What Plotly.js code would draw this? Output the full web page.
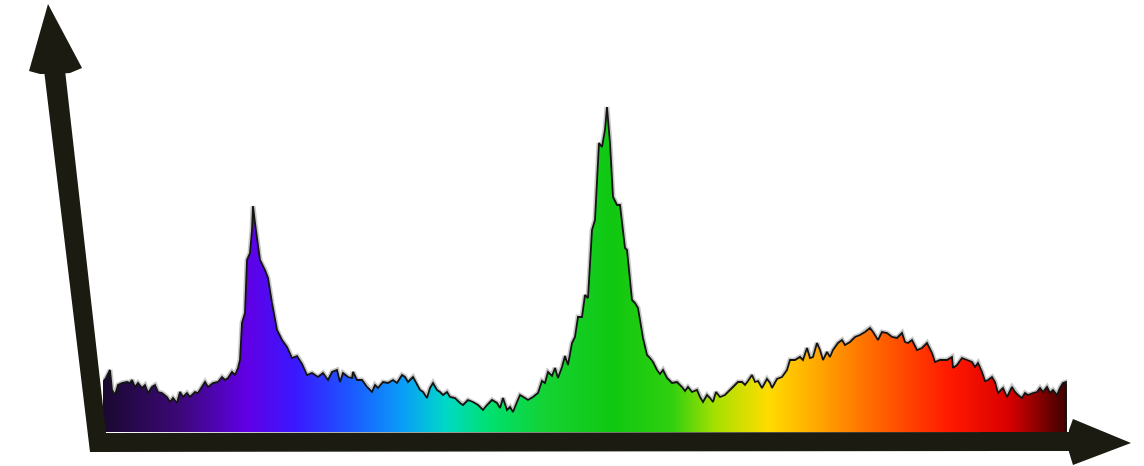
<!DOCTYPE html>
<html>
<head>
<meta charset="utf-8">
<script src="https://cdn.plot.ly/plotly-3.0.1.min.js"></script>
<style>
  html, body { margin: 0; padding: 0; background: #ffffff; }
  #chart { width: 1144px; height: 466px; }
</style>
</head>
<body>
<div id="chart"></div>
<script>
// Spectrum: position along the axis (arbitrary units) and intensity (a.u.)
const position = [0, 3, 7, 9, 12, 15, 19, 24, 27, 29, 32, 35, 39, 42, 45, 49, 52, 55, 59, 64,
  67, 70, 74, 77, 80, 84, 87, 92, 95, 99, 102, 105, 110, 115, 119, 122, 125, 129, 132, 135,
  137, 139, 142, 144, 147, 149, 150, 152, 155, 157, 162, 165, 169, 174, 179, 184, 189, 194, 199, 204,
  209, 212, 215, 220, 225, 229, 234, 237, 240, 245, 249, 250, 254, 259, 264, 269, 272, 275, 280, 285,
  290, 294, 299, 302, 305, 310, 314, 317, 320, 324, 327, 330, 334, 337, 340, 344, 347, 352, 357, 360,
  365, 370, 375, 380, 384, 389, 394, 397, 400, 404, 407, 410, 414, 417, 422, 425, 430, 435, 439, 442,
  445, 449, 452, 455, 459, 462, 465, 469, 472, 475, 479, 482, 485, 489, 492, 496, 499, 502, 504, 507,
  510, 514, 517, 522, 524, 529, 532, 535, 540, 544, 547, 550, 554, 557, 560, 564, 569, 574, 579, 582,
  585, 589, 594, 597, 600, 604, 607, 610, 613, 617, 622, 629, 635, 639, 642, 645, 649, 652, 655, 659,
  664, 667, 669, 674, 679, 684, 687, 692, 697, 700, 704, 707, 710, 714, 717, 720, 724, 727, 730, 735,
  739, 742, 747, 752, 757, 762, 767, 770, 775, 779, 784, 789, 794, 799, 802, 805, 809, 814, 819, 824,
  829, 832, 837, 844, 849, 850, 854, 859, 864, 869, 872, 875, 879, 882, 885, 889, 892, 895, 900, 904,
  909, 912, 915, 919, 922, 925, 930, 934, 937, 940, 944, 947, 950, 954, 957, 960, 963, 964];

const intensity = [50, 54, 62, 42, 37, 47, 49, 50, 49, 52, 45, 49, 44, 47, 39, 45, 47, 40, 39, 35,
  30, 34, 29, 40, 35, 39, 35, 40, 39, 45, 50, 45, 49, 50, 55, 52, 54, 60, 57, 64,
  72, 109, 119, 172, 179, 202, 226, 209, 184, 172, 162, 154, 129, 102, 92, 85, 74, 76, 68, 57,
  59, 57, 55, 59, 52, 60, 62, 50, 59, 55, 54, 60, 52, 52, 45, 40, 47, 44, 50, 49,
  52, 49, 57, 55, 50, 55, 47, 42, 40, 34, 44, 49, 42, 40, 37, 40, 35, 34, 29, 27,
  32, 30, 27, 22, 27, 32, 29, 24, 34, 22, 25, 20, 30, 37, 34, 32, 35, 39, 51, 49,
  60, 56, 64, 54, 65, 76, 67, 89, 95, 115, 115, 137, 134, 202, 212, 289, 285, 302, 325, 289,
  235, 227, 227, 184, 182, 132, 129, 124, 94, 77, 74, 70, 62, 58, 62, 54, 49, 50, 45, 41,
  45, 40, 42, 35, 30, 37, 34, 30, 40, 35, 37, 44, 50, 50, 47, 51, 57, 50, 51, 44,
  53, 49, 44, 53, 55, 62, 72, 72, 75, 72, 84, 74, 75, 89, 82, 72, 80, 75, 82, 89,
  92, 87, 90, 95, 97, 100, 104, 100, 92, 100, 99, 95, 94, 99, 90, 89, 92, 82, 84, 89,
  79, 70, 72, 72, 75, 64, 67, 74, 72, 70, 65, 69, 60, 51, 52, 55, 50, 39, 44, 35,
  45, 40, 37, 34, 39, 37, 39, 40, 44, 40, 45, 39, 42, 37, 44, 49, 50, 0];

// Rainbow used for the fill, from violet through red
const gradientStops = [0, 0.08, 0.15, 0.2, 0.26, 0.31, 0.355, 0.4, 0.46, 0.53, 0.59, 0.635, 0.69, 0.72, 0.77, 0.83, 0.88, 0.94, 1];
const gradientColors = ['#1a0830', '#3c0878', '#6000e6', '#3a18ff', '#1a5cff', '#0a9cf8', '#00d8c8', '#00e070',
  '#14d232', '#10c810', '#30d010', '#a6e000', '#ffdc00', '#ffbe00', '#ff8800', '#ff4800', '#ff1800', '#d80000', '#3c0000'];

const W = 1144, H = 466;
const M = { l: 103, r: 77, t: 92, b: 34 };
const plotW = W - M.l - M.r, plotH = H - M.t - M.b;
// pixel -> paper helpers for the decorative axis arrows
function px(x) { return ((x - M.l) / plotW).toFixed(5); }
function py(y) { return ((H - M.b - y) / plotH).toFixed(5); }
function path(pts, curve) {
  let s = 'M ' + px(pts[0][0]) + ',' + py(pts[0][1]);
  for (let i = 1; i < pts.length; i++) s += ' L ' + px(pts[i][0]) + ',' + py(pts[i][1]);
  return s + ' Z';
}

const axisColor = '#1c1b12';
const shapes = [
  // L-shaped axis bars
  { type: 'path', xref: 'paper', yref: 'paper', layer: 'above',
    path: path([[44, 70], [65, 70], [106, 433], [1076, 432], [1076, 451], [90, 452]]),
    fillcolor: axisColor, line: { width: 0 } },
  // y arrowhead
  { type: 'path', xref: 'paper', yref: 'paper', layer: 'above',
    path: path([[29, 71], [48, 4], [82, 68], [70, 73], [56, 74], [40, 74]]),
    fillcolor: axisColor, line: { width: 0 } },
  // x arrowhead
  { type: 'path', xref: 'paper', yref: 'paper', layer: 'above',
    path: path([[1073, 419], [1131, 443], [1073, 465], [1069, 452], [1068, 442], [1069, 430]]),
    fillcolor: axisColor, line: { width: 0 } }
];

const colorscale = gradientStops.map((s, i) => [s, gradientColors[i]]);

const traces = [
  { type: 'scatter', mode: 'lines', x: position, y: intensity, hoverinfo: 'skip',
    line: { color: 'rgba(0,0,0,0.22)', width: 5 }, showlegend: false },
  { type: 'scatter', mode: 'lines', x: position, y: intensity, fill: 'tozeroy',
    fillgradient: { type: 'horizontal', start: 0, stop: 964, colorscale: colorscale },
    line: { color: '#141414', width: 1.8 }, showlegend: false }
];

const layout = {
  width: W, height: H,
  margin: M,
  paper_bgcolor: '#ffffff', plot_bgcolor: '#ffffff',
  xaxis: { range: [0, 964], visible: false, showgrid: false, zeroline: false, fixedrange: true },
  yaxis: { range: [0, 340], visible: false, showgrid: false, zeroline: false, fixedrange: true },
  shapes: shapes,
  showlegend: false
};

Plotly.newPlot('chart', traces, layout, { displayModeBar: false, staticPlot: true });
</script>
</body>
</html>
